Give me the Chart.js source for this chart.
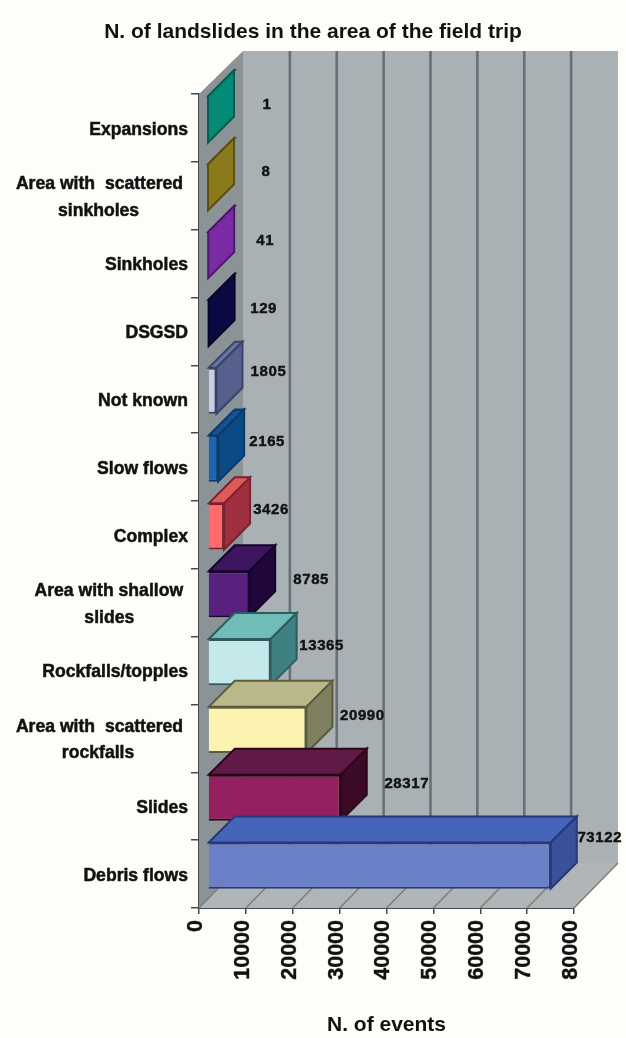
<!DOCTYPE html>
<html><head><meta charset="utf-8">
<style>html,body{margin:0;padding:0;background:#fffdfa}canvas{display:block;filter:blur(0.75px)}</style>
<script src="https://cdn.jsdelivr.net/npm/chart.js@4"></script></head>
<body><canvas id="c" width="626" height="1038" style="width:626px;height:1038px"></canvas>
<script>
const categories=[["Expansions"],["Area with  scattered","sinkholes"],["Sinkholes"],["DSGSD"],["Not known"],["Slow flows"],["Complex"],["Area with shallow","slides"],["Rockfalls/topples"],["Area with  scattered","rockfalls"],["Slides"],["Debris flows"]];
const events=[1,8,41,129,1805,2165,3426,8785,13365,20990,28317,73122];
const frontColors=["#0a8a78","#8a7a1a","#7a2aa0","#0a0a40","#c8cde8","#1a66b0","#ff6b6b","#5a2080","#c5e8ea","#fdf3b0","#96205f","#6b80c8"];
const sideColors=["#058a78","#8a7a1c","#7a2aa2","#0a0a42","#55608f","#0b4a85","#a03040","#20063a","#3f8080","#7f8060","#3a0a28","#3a509a"];
const topColors=["#0a8a78","#8a7a1a","#7a2aa0","#0a0a40","#6a75a5","#0f5596","#e05a5a","#3d1560","#70bdb8","#b8b888","#601a48","#4565bb"];
const edgeColors=["#0b5a50","#5a5010","#4a1a68","#05052a","#3a4468","#0a3a68","#7a2030","#14042a","#2c5c60","#5c5c3c","#2a0618","#26387a"];
const labelNudgeX=[4,3,2,0,-3,-6,-8,7,-4,1,11,-6];
const labelNudgeY=[1,0,1,1,-3,-1,-1,1,-1,1,2,-12];

const wallDepth=44, barShift={x:9,y:-8.5}, barDepth=26;
const ink="#111111";
const FONT="'Liberation Sans',Arial,sans-serif";
const LABEL_SIZE=17.6;

function centred(lines){
  if(lines.length<2) return lines[0];
  const ctx=document.createElement('canvas').getContext('2d');
  ctx.font="bold "+LABEL_SIZE+"px "+FONT;
  const w=lines.map(l=>ctx.measureText(l).width), sp=ctx.measureText(" ").width, m=Math.max(...w);
  return lines.map((l,i)=>l+" ".repeat(Math.round((m-w[i])/2/sp)+1));
}
function poly(ctx,pts,fill,stroke,lw){
  ctx.beginPath();pts.forEach((p,i)=>i?ctx.lineTo(p[0],p[1]):ctx.moveTo(p[0],p[1]));ctx.closePath();
  ctx.fillStyle=fill;ctx.fill();
  if(stroke){ctx.strokeStyle=stroke;ctx.lineWidth=lw||1.5;ctx.stroke();}
}
const threeD={
  id:'threeD',
  beforeDatasetsDraw(chart){
    const {ctx,chartArea:a,scales:{x}}=chart, d=wallDepth;
    ctx.save();
    poly(ctx,[[a.left,a.top],[a.left+d,a.top-d+1],[a.left+d,a.bottom-d-1],[a.left,a.bottom]],"#8b9397");
    poly(ctx,[[a.left+d,a.top-d+1],[a.right+d,a.top-d+1],[a.right+d,a.bottom-d-1],[a.left+d,a.bottom-d-1]],"#a9b1b5");
    poly(ctx,[[a.left,a.bottom],[a.left+d,a.bottom-d-1],[a.right+d,a.bottom-d-1],[a.right,a.bottom]],"#b0b6b8");
    x.ticks.forEach((t,i)=>{
      const px=x.getPixelForTick(i);
      if(i>0&&i<x.ticks.length-1){
        ctx.strokeStyle="#667076";ctx.lineWidth=2.6;
        ctx.beginPath();ctx.moveTo(px+d,a.top-d+1);ctx.lineTo(px+d,a.bottom-d-1);ctx.stroke();
      }
      ctx.strokeStyle="#7c8078";ctx.lineWidth=1.5;
      ctx.beginPath();ctx.moveTo(px+d,a.bottom-d-1);ctx.lineTo(px,a.bottom);ctx.stroke();
    });
    ctx.restore();
  },
  beforeDatasetDraw(chart){chart.ctx.save();chart.ctx.translate(barShift.x,barShift.y);},
  afterDatasetDraw(chart){
    const ctx=chart.ctx, dd=barDepth;
    chart.getDatasetMeta(0).data.forEach((el,i)=>{
      const r=el.x,l=el.base,t=el.y-el.height/2,b=el.y+el.height/2;
      poly(ctx,[[l,t],[l+dd,t-dd],[r+dd,t-dd],[r,t]],topColors[i],edgeColors[i],2);
      poly(ctx,[[r,t],[r+dd,t-dd],[r+dd,b-dd],[r,b]],sideColors[i],edgeColors[i],2);
    });
    ctx.restore();
    ctx.save();
    ctx.fillStyle=ink;ctx.strokeStyle=ink;ctx.lineWidth=0.4;ctx.font="bold 15px "+FONT;ctx.textAlign="center";ctx.textBaseline="middle";
    if('letterSpacing' in ctx) ctx.letterSpacing="0.6px";
    chart.getDatasetMeta(0).data.forEach((el,i)=>{
      const tx=el.x+barShift.x+55+labelNudgeX[i], ty=el.y-24+labelNudgeY[i];
      ctx.fillText(String(events[i]),tx,ty);ctx.strokeText(String(events[i]),tx,ty);
    });
    ctx.restore();
  }
};
new Chart(document.getElementById('c'),{
  type:'bar',
  data:{labels:categories,datasets:[{data:events,backgroundColor:frontColors,borderColor:edgeColors,borderWidth:2,barPercentage:0.68,categoryPercentage:1,clip:false,yAxisID:'y',xAxisID:'x'}]},
  plugins:[threeD],
  options:{
    indexAxis:'y',responsive:false,animation:false,
    layout:{padding:0},
    plugins:{legend:{display:false},tooltip:{enabled:false},
      title:{display:true,text:"N. of landslides in the area of the field trip",color:ink,font:{family:FONT,size:21,weight:'bold',lineHeight:1.2},padding:{top:19.4,bottom:49.4}}},
    scales:{
      x:{type:'linear',position:'bottom',min:0,max:80000,
        afterFit(s){s.height=130;},
        grid:{drawOnChartArea:false,drawTicks:true,tickLength:6,color:"#44494c",lineWidth:1.5},
        border:{display:true,color:"#44494c",width:2},
        ticks:{stepSize:10000,minRotation:90,maxRotation:90,padding:6,labelOffset:-3,color:ink,textStrokeColor:ink,textStrokeWidth:0.4,font:{family:FONT,size:21.5,weight:'bold'},callback:v=>String(v)},
        title:{display:true,text:"N. of events",color:ink,font:{family:FONT,size:21,weight:'bold'},padding:{top:0,bottom:0}}},
      y:{type:'category',position:'left',
        afterFit(s){s.width=199;},
        grid:{drawOnChartArea:false,drawTicks:true,tickLength:8,color:"#44494c",lineWidth:1.5,offset:true},
        border:{display:true,color:"#44494c",width:2},
        ticks:{autoSkip:false,padding:3,labelOffset:2,color:ink,textStrokeColor:ink,textStrokeWidth:0.5,font:{family:FONT,size:LABEL_SIZE,weight:'bold',lineHeight:1.5},callback(v,i){return centred(categories[i]);}}},
      pad:{type:'linear',position:'right',display:true,min:0,max:1,
        afterFit(s){s.width=52;},
        grid:{display:false},border:{display:false},ticks:{display:false},title:{display:false}}
    }
  }
});
</script></body></html>
